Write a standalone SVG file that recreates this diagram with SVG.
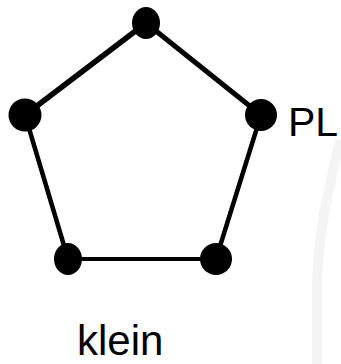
<svg xmlns="http://www.w3.org/2000/svg" width="341" height="364" viewBox="0 0 341 364">
  <style>
    .edge { stroke: #000; fill: none; stroke-linecap: round; }
    .node { fill: #000; }
    .lbl { font-family: "Liberation Sans", Arial, sans-serif; fill: #000; }
  </style>
  <rect width="341" height="364" fill="#fff"/>
  <path d="M 340 140 C 327 195, 317 240, 317 290 L 317 364" stroke="#f4f4f4" stroke-width="10" fill="none"/>
  <g id="connectors">
    <line class="edge" x1="146" y1="23" x2="25" y2="115" stroke-width="5.5"/>
    <line class="edge" x1="146" y1="23" x2="261" y2="115" stroke-width="5"/>
    <line class="edge" x1="25" y1="115" x2="68" y2="259" stroke-width="4.5"/>
    <line class="edge" x1="261" y1="115" x2="216" y2="259" stroke-width="4.5"/>
    <line class="edge" x1="68" y1="259" x2="216" y2="259" stroke-width="4"/>
  </g>
  <g id="n-top"><ellipse class="node" cx="146" cy="23" rx="14" ry="16"/></g>
  <g id="n-left"><circle class="node" cx="25" cy="115" r="16.5"/></g>
  <g id="n-right"><ellipse class="node" cx="261" cy="115" rx="16" ry="16"/></g>
  <g id="n-bl"><ellipse class="node" cx="68" cy="259" rx="14" ry="16"/></g>
  <g id="n-br"><ellipse class="node" cx="216" cy="259" rx="16" ry="16"/></g>
  <text class="lbl" x="288" y="136" font-size="41">PL</text>
  <text class="lbl" x="77" y="355" font-size="42">klein</text>
</svg>
